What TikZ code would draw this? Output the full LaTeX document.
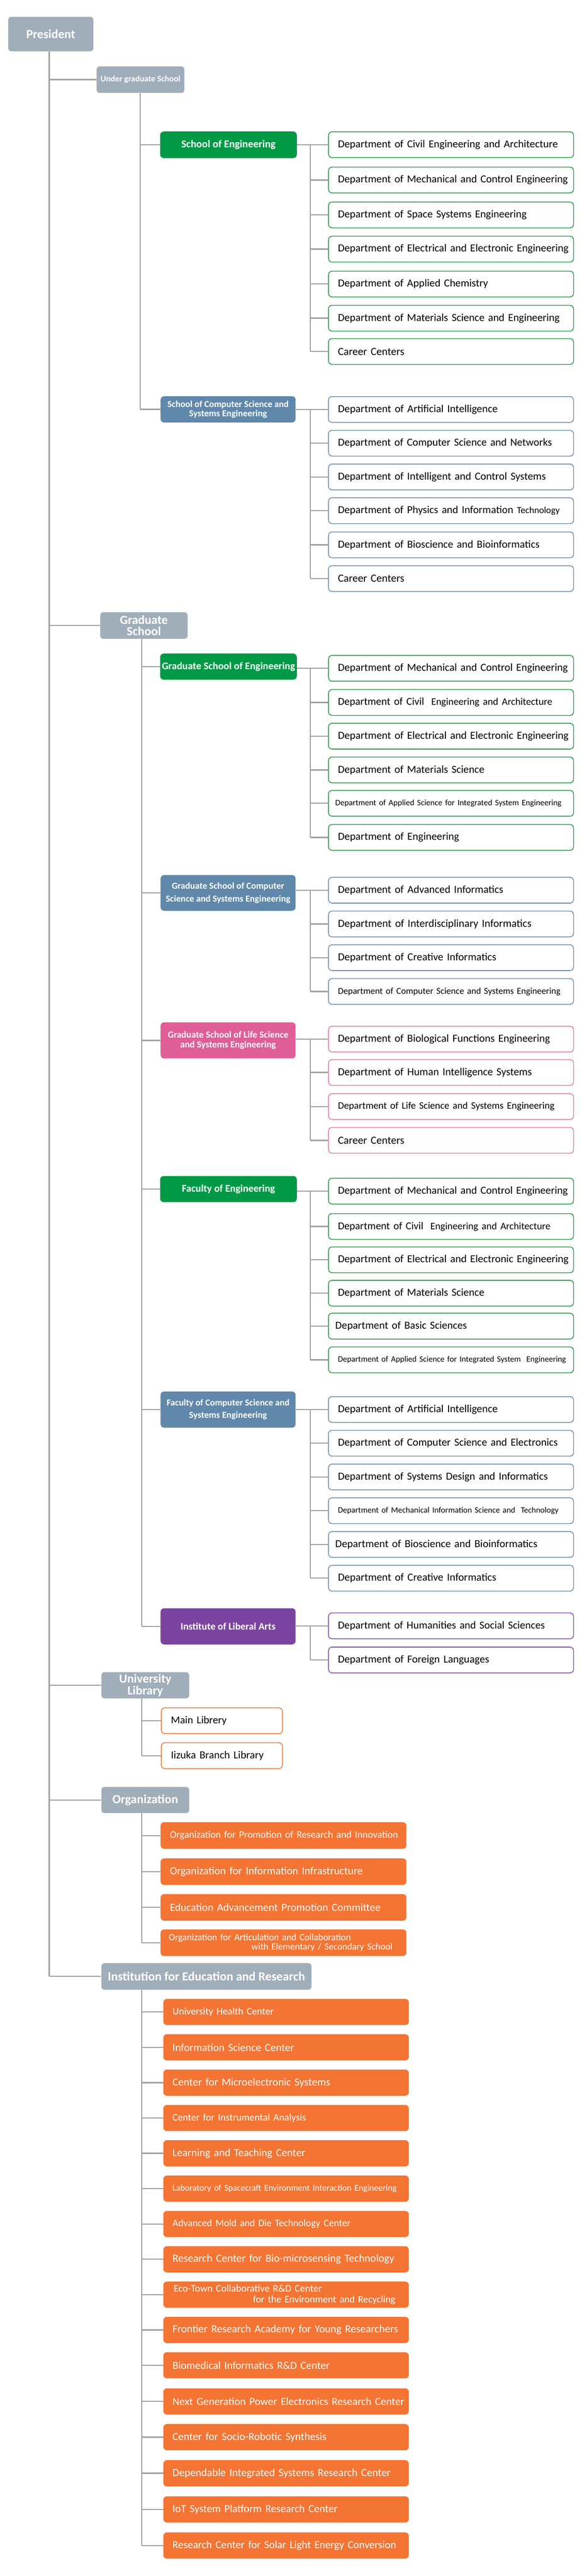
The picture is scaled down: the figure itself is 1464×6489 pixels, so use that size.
\documentclass[tikz,border=0pt]{standalone}
\usepackage{graphicx}
\usepackage{fontspec}
\setmainfont{Carlito}
\definecolor{grayb}{HTML}{A0AEBA}
\definecolor{cgreen}{HTML}{009A46}
\definecolor{cblue}{HTML}{5F88AA}
\definecolor{cpink}{HTML}{E05E98}
\definecolor{cpurple}{HTML}{7B44A0}
\definecolor{corange}{HTML}{F47433}
\definecolor{lineg}{HTML}{A0A0A0}
\definecolor{bgreen}{HTML}{2E9A48}
\definecolor{bblue}{HTML}{6F90AE}
\definecolor{bpink}{HTML}{E27CAC}
\definecolor{bpurple}{HTML}{8752A8}
\definecolor{borange}{HTML}{EE7B3B}
\newcommand{\dind}[1][23.7pt]{\hspace*{#1}}
\newcommand{\fsz}[2]{\fontsize{#1}{#2}\selectfont}
\newcommand{\tw}[2]{\resizebox{#1pt}{!}{#2}}
\begin{document}
\begin{tikzpicture}[x=1pt,y=-1pt,
  conn/.style={draw=lineg, line width=3pt},
  topbox/.style={fill=grayb, rounded corners=8pt, text=white, align=center,
    inner sep=0pt, anchor=north west, font=\bfseries\fsz{30}{30}},
  school/.style={fill=#1, rounded corners=9pt, anchor=north west, minimum width=344pt,
    minimum height=66pt, text=white, align=center, inner sep=0pt,
    font=\bfseries\fsz{25.5}{26}},
  dept/.style={draw=#1, line width=2pt, fill=white, rounded corners=9pt, anchor=west,
    minimum height=65pt, text width=617pt, inner xsep=0pt, inner ysep=0pt, align=left,
    text=black, font=\fsz{27}{30}},
  orangebox/.style={fill=corange, rounded corners=9pt, anchor=north west,
    minimum height=66pt, text width=618pt, inner xsep=0pt, inner ysep=0pt, align=left,
    text=white, font=\fsz{26}{28}}
]
\useasboundingbox (0,0) rectangle (1464,6489);
\fill[white] (0,0) rectangle (1464,6489);

\coordinate (mx) at (124,0);
\coordinate (ux) at (353,0);
\coordinate (gx) at (357,0);
\coordinate (dx) at (781,0);

% ---------- top level ----------
\node[topbox, minimum width=214.5pt, minimum height=87pt, font=\bfseries\fsz{31}{31}] (pres) at (20.5,42) {\tw{123.2}{President}};
\node[topbox, minimum width=221pt, minimum height=67pt, font=\bfseries\fsz{21}{21}] (ug) at (243,167) {\tw{200.7}{Under graduate School}};

% ---------- School of Engineering ----------
\node[school=cgreen, minimum height=67pt] (se) at (403,331) {\tw{237.2}{School of Engineering}};
\node[dept=bgreen] (se1) at (826,364.5) {\dind\tw{553.7}{Department of Civil Engineering and Architecture}};
\node[dept=bgreen] (se2) at (826,453.5) {\dind\tw{578.9}{Department of Mechanical and Control Engineering}};
\node[dept=bgreen] (se3) at (826,541.5) {\dind\tw{475.3}{Department of Space Systems Engineering}};
\node[dept=bgreen] (se4) at (826,627.5) {\dind\tw{580.8}{Department of Electrical and Electronic Engineering}};
\node[dept=bgreen] (se5) at (826,715.5) {\dind\tw{378.2}{Department of Applied Chemistry}};
\node[dept=bgreen] (se6) at (826,801.5) {\dind\tw{558.4}{Department of Materials Science and Engineering}};
\node[dept=bgreen] (se7) at (826,885.5) {\dind\tw{167.1}{Career Centers}};

% ---------- School of CS ----------
\node[school=cblue, minimum width=340pt, font=\bfseries\fsz{23}{23}] (scs) at (404,998) {\tw{305.3}{School of Computer Science and}\\\tw{196.1}{Systems Engineering}};
\node[dept=bblue] (scs1) at (826,1031.5) {\dind\tw{402.4}{Department of Artificial Intelligence}};
\node[dept=bblue] (scs2) at (826,1116.5) {\dind\tw{538.7}{Department of Computer Science and Networks}};
\node[dept=bblue] (scs3) at (826,1201.5) {\dind\tw{523.8}{Department of Intelligent and Control Systems}};
\node[dept=bblue] (scs4) at (826,1286.5) {\dind\tw{558.4}{Department of Physics and Information {\fsz{23.5}{30}Technology}}};
\node[dept=bblue] (scs5) at (826,1372.5) {\dind\tw{507.9}{Department of Bioscience and Bioinformatics}};
\node[dept=bblue] (scs6) at (826,1457.5) {\dind\tw{167.1}{Career Centers}};

% ---------- Graduate School ----------
\node[topbox, minimum width=220pt, minimum height=67pt, font=\bfseries\fsz{29}{28.5}] (gs) at (252,1542) {\tw{120.4}{Graduate}\\\tw{85.9}{School}};

\node[school=cgreen] (gse) at (403,1646) {\tw{335.2}{Graduate School of Engineering}};
\node[dept=bgreen] (gse1) at (826,1683.5) {\dind\tw{578.9}{Department of Mechanical and Control Engineering}};
\node[dept=bgreen] (gse2) at (826,1769.5) {\dind\tw{539.7}{Department of Civil\ \ {\fsz{25.5}{30}Engineering and Architecture}}};
\node[dept=bgreen] (gse3) at (826,1854.5) {\dind\tw{580.8}{Department of Electrical and Electronic Engineering}};
\node[dept=bgreen] (gse4) at (826,1939.5) {\dind\tw{368.8}{Department of Materials Science}};
\node[dept=bgreen] (gse5) at (826,2023.5) {\dind[17.1pt]\tw{569.6}{Department of Applied Science for Integrated System Engineering}};
\node[dept=bgreen] (gse6) at (826,2109.5) {\dind\tw{305.3}{Department of Engineering}};

\node[school=cblue, minimum width=340pt, minimum height=90pt, font=\bfseries\fsz{23}{32}] (gscs) at (404,2204) {\tw{282.9}{Graduate School of Computer}\\\tw{313.7}{Science and Systems Engineering}};
\node[dept=bblue] (gscs1) at (826,2242.5) {\dind\tw{416.4}{Department of Advanced Informatics}};
\node[dept=bblue] (gscs2) at (826,2327.5) {\dind\tw{487.4}{Department of Interdisciplinary Informatics}};
\node[dept=bblue] (gscs3) at (826,2412.5) {\dind\tw{398.7}{Department of Creative Informatics}};
\node[dept=bblue] (gscs4) at (826,2497.5) {\dind\tw{560.2}{Department of Computer Science and Systems Engineering}};

\node[school=cpink, minimum width=340pt, minimum height=91pt, font=\bfseries\fsz{23}{24}] (gsls) at (404,2575) {\tw{303.5}{Graduate School of Life Science}\\\tw{240.9}{and Systems Engineering}};
\node[dept=bpink] (gsls1) at (826,2617.5) {\dind\tw{534.1}{Department of Biological Functions Engineering}};
\node[dept=bpink] (gsls2) at (826,2701.5) {\dind\tw{488.3}{Department of Human Intelligence Systems}};
\node[dept=bpink] (gsls3) at (826,2787.5) {\dind\tw{545.3}{Department of Life Science and Systems Engineering}};
\node[dept=bpink] (gsls4) at (826,2872.5) {\dind\tw{167.1}{Career Centers}};

\node[school=cgreen] (fe) at (403,2962) {\tw{234.4}{Faculty of Engineering}};
\node[dept=bgreen] (fe1) at (826,3000.5) {\dind\tw{578.9}{Department of Mechanical and Control Engineering}};
\node[dept=bgreen] (fe2) at (826,3089.5) {\dind\tw{535.0}{Department of Civil\ \ {\fsz{25.5}{30}Engineering and Architecture}}};
\node[dept=bgreen] (fe3) at (826,3173.5) {\dind\tw{580.8}{Department of Electrical and Electronic Engineering}};
\node[dept=bgreen] (fe4) at (826,3257.5) {\dind\tw{368.8}{Department of Materials Science}};
\node[dept=bgreen] (fe5) at (826,3340.5) {\dind[17.1pt]\tw{331.5}{Department of Basic Sciences}};
\node[dept=bgreen] (fe6) at (826,3425.5) {\dind\tw{574.2}{Department of Applied Science for Integrated System\ \ Engineering}};

\node[school=cblue, minimum width=340pt, minimum height=91pt, font=\bfseries\fsz{23}{31}] (fcs) at (404,3505) {\tw{309.1}{Faculty of Computer Science and}\\\tw{196.1}{Systems Engineering}};
\node[dept=bblue] (fcs1) at (826,3550.5) {\dind\tw{402.4}{Department of Artificial Intelligence}};
\node[dept=bblue] (fcs2) at (826,3635.5) {\dind\tw{553.7}{Department of Computer Science and Electronics}};
\node[dept=bblue] (fcs3) at (826,3720.5) {\dind\tw{528.5}{Department of Systems Design and Informatics}};
\node[dept=bblue] (fcs4) at (826,3805.5) {\dind\tw{555.6}{Department of Mechanical Information Science and\ \ Technology}};
\node[dept=bblue] (fcs5) at (826,3890.5) {\dind[17.1pt]\tw{508.9}{Department of Bioscience and Bioinformatics}};
\node[dept=bblue] (fcs6) at (826,3975.5) {\dind\tw{398.7}{Department of Creative Informatics}};

\node[school=cpurple, minimum width=340pt, minimum height=91pt] (ila) at (404,4051) {\tw{239.0}{Institute of Liberal Arts}};
\node[dept=bpurple] (ila1) at (826,4095.5) {\dind\tw{521.0}{Department of Humanities and Social Sciences}};
\node[dept=bpurple] (ila2) at (826,4181.5) {\dind\tw{381.0}{Department of Foreign Languages}};

% ---------- University Library ----------
\node[topbox, minimum width=221pt, minimum height=66pt, font=\bfseries\fsz{30}{30}] (lib) at (255,4212) {\tw{131.7}{University}\\\tw{89.6}{Library}};
\node[dept=borange, text width=305pt] (lib1) at (405,4334.5) {\dind[24.5pt]\tw{140.1}{Main Librery}};
\node[dept=borange, text width=305pt] (lib2) at (405,4422.5) {\dind[24.5pt]\tw{233.4}{Iizuka Branch Library}};

% ---------- Organization ----------
\node[topbox, minimum width=221pt, minimum height=66pt] (org) at (255,4501) {\tw{165.3}{Organization}};
\node[orangebox, text width=619pt, minimum height=67pt] (org1) at (404,4590) {\dind[23.6pt]\tw{574.2}{Organization for Promotion of Research and Innovation}};
\node[orangebox, text width=619pt, minimum height=67pt] (org2) at (404,4681) {\dind[23.6pt]\tw{485.5}{Organization for Information Infrastructure}};
\node[orangebox, text width=619pt, minimum height=67pt] (org3) at (404,4771) {\dind[23.6pt]\tw{530.3}{Education Advancement Promotion Committee}};
\node[orangebox, text width=619pt, minimum height=67pt, font=\fsz{24}{24}] (org4) at (404,4860) {\dind[20.8pt]\tw{458.4}{Organization for Articulation and Collaboration}\\\dind[229pt]\tw{354.8}{with Elementary / Secondary School}};

% ---------- Institution ----------
\node[topbox, minimum width=529pt, minimum height=67pt] (inst) at (255,4945) {\tw{496.7}{Institution for Education and Research}};
\node[orangebox] (in1) at (411,5035) {\dind[23.2pt]\tw{254.9}{University Health Center}};
\node[orangebox] (in2) at (411,5124) {\dind[23.2pt]\tw{306.3}{Information Science Center}};
\node[orangebox] (in3) at (411,5213) {\dind[23.2pt]\tw{396.8}{Center for Microelectronic Systems}};
\node[orangebox] (in4) at (411,5302) {\dind[23.2pt]\tw{336.1}{Center for Instrumental Analysis}};
\node[orangebox] (in5) at (411,5391) {\dind[23.2pt]\tw{334.3}{Learning and Teaching Center}};
\node[orangebox] (in6) at (411,5480) {\dind[23.2pt]\tw{564.0}{Laboratory of Spacecraft Environment Interaction Engineering}};
\node[orangebox] (in7) at (411,5569) {\dind[23.2pt]\tw{448.2}{Advanced Mold and Die Technology Center}};
\node[orangebox] (in8) at (411,5658) {\dind[23.2pt]\tw{558.4}{Research Center for Bio-microsensing Technology}};
\node[orangebox, font=\fsz{25.5}{27}] (in9) at (411,5747) {\dind[26pt]\tw{373.5}{Eco-Town Collaborative R\&D Center}\\\dind[225.8pt]\tw{358.5}{for the Environment and Recycling}};
\node[orangebox] (in10) at (411,5836) {\dind[23.2pt]\tw{567.7}{Frontier Research Academy for Young Researchers}};
\node[orangebox] (in11) at (411,5925) {\dind[23.2pt]\tw{395.9}{Biomedical Informatics R\&D Center}};
\node[orangebox] (in12) at (411,6016) {\dind[23.2pt]\tw{583.6}{Next Generation Power Electronics Research Center}};
\node[orangebox] (in13) at (411,6106) {\dind[23.2pt]\tw{387.5}{Center for Socio-Robotic Synthesis}};
\node[orangebox] (in14) at (411,6197) {\dind[23.2pt]\tw{549.0}{Dependable Integrated Systems Research Center}};
\node[orangebox] (in15) at (411,6288) {\dind[23.2pt]\tw{415.5}{IoT System Platform Research Center}};
\node[orangebox] (in16) at (411,6379) {\dind[23.2pt]\tw{563.0}{Research Center for Solar Light Energy Conversion}};

% ---------- connectors ----------
\draw[conn] (pres.south -| mx) -- (inst.west -| mx);
\foreach \n in {ug,gs,lib,org,inst} \draw[conn] (\n.west -| mx) -- (\n.west);

\draw[conn] (ug.south -| ux) -- (scs.west -| ux);
\foreach \n in {se,scs} \draw[conn] (\n.west -| ux) -- (\n.west);

\draw[conn] (gs.south -| gx) -- (ila.west -| gx);
\foreach \n in {gse,gscs,gsls,fe,fcs,ila} \draw[conn] (\n.west -| gx) -- (\n.west);

\draw[conn] (lib.south -| gx) -- (lib2.west -| gx);
\foreach \n in {lib1,lib2} \draw[conn] (\n.west -| gx) -- (\n.west);

\draw[conn] (org.south -| gx) -- (org4.west -| gx);
\foreach \n in {org1,org2,org3,org4} \draw[conn] (\n.west -| gx) -- (\n.west);

\draw[conn] (inst.south -| gx) -- (in16.west -| gx);
\foreach \i in {1,...,16} \draw[conn] (in\i.west -| gx) -- (in\i.west);

% department groups
\foreach \s/\last/\rest in {se/se7/{se2,se3,se4,se5,se6,se7},
    scs/scs6/{scs2,scs3,scs4,scs5,scs6},
    gse/gse6/{gse2,gse3,gse4,gse5,gse6},
    gscs/gscs4/{gscs2,gscs3,gscs4},
    gsls/gsls4/{gsls2,gsls3,gsls4},
    fe/fe6/{fe2,fe3,fe4,fe5,fe6},
    fcs/fcs6/{fcs2,fcs3,fcs4,fcs5,fcs6},
    ila/ila2/{ila2}} {
  \draw[conn] (\s.east |- \s1.west) -- (\s1.west);
  \draw[conn] (dx |- \s1.west) -- (dx |- \last.west);
  \foreach \d in \rest \draw[conn] (dx |- \d.west) -- (\d.west);
}
\end{tikzpicture}
\end{document}
